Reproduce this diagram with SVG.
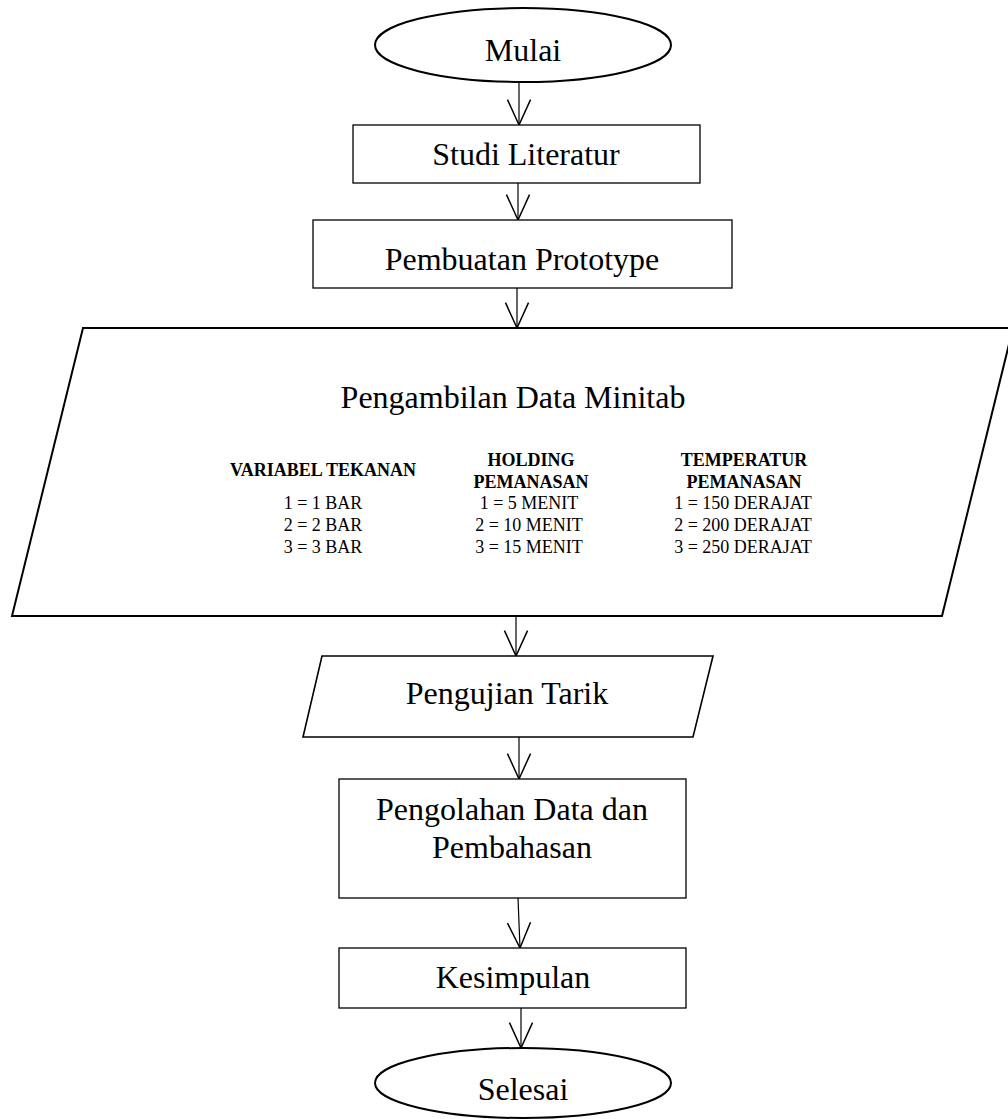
<svg xmlns="http://www.w3.org/2000/svg" width="1008" height="1119" viewBox="0 0 1008 1119">
<style>
text{font-family:"Liberation Serif","Times New Roman",serif;fill:#000;text-anchor:middle}
.big{font-size:32px}
.sm{font-size:18px}
.b{font-weight:bold}
.sh{fill:#fff;stroke:#000}
.thick{stroke-width:2}
.thin{stroke-width:1.3}
.con{stroke:#000;stroke-width:1.2;fill:none;marker-end:url(#arr)}
</style>
<defs>
<marker id="arr" markerUnits="userSpaceOnUse" markerWidth="30" markerHeight="30" viewBox="-24 -12 26 24" refX="0" refY="0" orient="auto" overflow="visible">
<path d="M-22,-10 L0,0 L-22,10" fill="none" stroke="#000" stroke-width="1.3"/>
</marker>
</defs>
<rect width="1008" height="1119" fill="#fff"/>
<g id="connectors">
<line class="con" x1="519" y1="83" x2="519" y2="125"/>
<line class="con" x1="518" y1="183" x2="518" y2="220"/>
<line class="con" x1="517" y1="288" x2="517" y2="328"/>
<line class="con" x1="516" y1="616" x2="516" y2="656"/>
<line class="con" x1="519" y1="737" x2="519" y2="779"/>
<line class="con" x1="518" y1="898" x2="520" y2="948"/>
<line class="con" x1="521" y1="1008" x2="521" y2="1048"/>
</g>
<g id="mulai">
<ellipse class="sh thick" cx="523" cy="45" rx="148" ry="37"/>
<text class="big" x="523" y="61">Mulai</text>
</g>
<g id="studi">
<rect class="sh thin" x="353" y="125" width="347" height="58"/>
<text class="big" x="526" y="165">Studi Literatur</text>
</g>
<g id="pembuatan">
<rect class="sh thin" x="313" y="220" width="419" height="68"/>
<text class="big" x="522" y="270">Pembuatan Prototype</text>
</g>
<g id="pengambilan">
<polygon class="sh thick" points="83,328 1013,328 942,616 12,616"/>
<text class="big" x="513" y="408">Pengambilan Data Minitab</text>
<text class="sm b" x="323" y="476">VARIABEL TEKANAN</text>
<text class="sm" x="323" y="509">1 = 1 BAR</text>
<text class="sm" x="323" y="531">2 = 2 BAR</text>
<text class="sm" x="323" y="553">3 = 3 BAR</text>
<text class="sm b" x="531" y="466">HOLDING</text>
<text class="sm b" x="531" y="488">PEMANASAN</text>
<text class="sm" x="529" y="509">1 = 5 MENIT</text>
<text class="sm" x="529" y="531">2 = 10 MENIT</text>
<text class="sm" x="529" y="553">3 = 15 MENIT</text>
<text class="sm b" x="744" y="466">TEMPERATUR</text>
<text class="sm b" x="744" y="488">PEMANASAN</text>
<text class="sm" x="743" y="509">1 = 150 DERAJAT</text>
<text class="sm" x="743" y="531">2 = 200 DERAJAT</text>
<text class="sm" x="743" y="553">3 = 250 DERAJAT</text>
</g>
<g id="pengujian">
<polygon class="sh" stroke-width="1.6" points="322,656 713,656 693,737 303,737"/>
<text class="big" x="507" y="704">Pengujian Tarik</text>
</g>
<g id="pengolahan">
<rect class="sh thin" x="339" y="779" width="347" height="119"/>
<text class="big" x="512" y="820">Pengolahan Data dan</text>
<text class="big" x="512" y="858">Pembahasan</text>
</g>
<g id="kesimpulan">
<rect class="sh thin" x="339" y="948" width="347" height="60"/>
<text class="big" x="513" y="988">Kesimpulan</text>
</g>
<g id="selesai">
<ellipse class="sh thick" cx="523" cy="1083" rx="148" ry="35"/>
<text class="big" x="523" y="1100">Selesai</text>
</g>
</svg>
